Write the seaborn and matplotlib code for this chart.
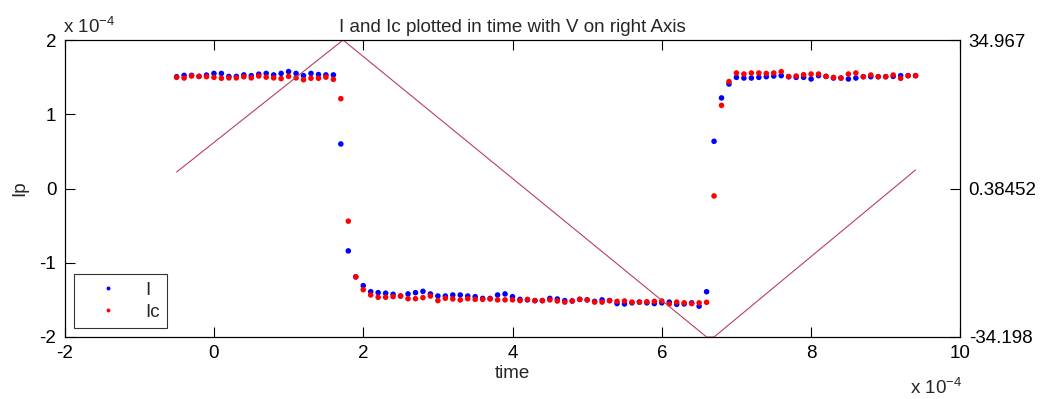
import numpy as np
import pandas as pd
import matplotlib
matplotlib.use("Agg")
import matplotlib.pyplot as plt
import seaborn as sns

# ---- data (time and currents in units of 1e-4) ----
time = [-0.5, -0.4, -0.3, -0.2, -0.1, 0.0, 0.1, 0.2, 0.3, 0.4,
        0.5, 0.6, 0.7, 0.8, 0.9, 1.0, 1.1, 1.2, 1.3, 1.4,
        1.5, 1.6, 1.7, 1.8, 1.9, 2.0, 2.1, 2.2, 2.3, 2.4,
        2.5, 2.6, 2.7, 2.8, 2.9, 3.0, 3.1, 3.2, 3.3, 3.4,
        3.5, 3.6, 3.7, 3.8, 3.9, 4.0, 4.1, 4.2, 4.3, 4.4,
        4.5, 4.6, 4.7, 4.8, 4.9, 5.0, 5.1, 5.2, 5.3, 5.4,
        5.5, 5.6, 5.7, 5.8, 5.9, 6.0, 6.1, 6.2, 6.3, 6.4,
        6.5, 6.6, 6.7, 6.8, 6.9, 7.0, 7.1, 7.2, 7.3, 7.4,
        7.5, 7.6, 7.7, 7.8, 7.9, 8.0, 8.1, 8.2, 8.3, 8.4,
        8.5, 8.6, 8.7, 8.8, 8.9, 9.0, 9.1, 9.2, 9.3, 9.4]

I_vals = [1.506, 1.524, 1.524, 1.51, 1.528, 1.55, 1.55, 1.51, 1.51, 1.53,
          1.52, 1.54, 1.55, 1.53, 1.55, 1.575, 1.55, 1.52, 1.55, 1.535,
          1.53, 1.53,
          0.60, -0.84, -1.19,
          -1.309, -1.39, -1.403, -1.41, -1.425, -1.448, -1.42, -1.403, -1.385, -1.42,
          -1.448, -1.448, -1.434, -1.434, -1.448, -1.457, -1.48, -1.48, -1.434, -1.42,
          -1.457, -1.493, -1.50,
          -1.51, -1.51, -1.48, -1.488, -1.51, -1.515, -1.493, -1.50, -1.52, -1.50,
          -1.51, -1.55, -1.555, -1.54, -1.53, -1.54, -1.55, -1.54, -1.53, -1.56,
          -1.555, -1.54, -1.585, -1.39,
          0.636, 1.22,
          1.407, 1.497, 1.488, 1.488, 1.497, 1.506, 1.515, 1.52, 1.506, 1.497,
          1.497, 1.475, 1.52, 1.51, 1.488, 1.488, 1.475, 1.488, 1.506, 1.506,
          1.506, 1.506, 1.51, 1.52, 1.52, 1.52]

Ic_vals = [1.497, 1.488, 1.515, 1.51, 1.506, 1.497, 1.485, 1.49, 1.49, 1.505,
           1.49, 1.515, 1.50, 1.49, 1.48, 1.51, 1.49, 1.465, 1.485, 1.485,
           1.50, 1.47,
           1.21, -0.44, -1.19,
           -1.363, -1.434, -1.465, -1.465, -1.456, -1.448, -1.484, -1.484, -1.47, -1.448,
           -1.51, -1.479, -1.488, -1.501, -1.484, -1.493, -1.493, -1.488, -1.50, -1.50,
           -1.50, -1.51, -1.493,
           -1.51, -1.51, -1.50, -1.515, -1.53, -1.515, -1.493, -1.50, -1.53, -1.53,
           -1.51, -1.52, -1.515, -1.53, -1.53, -1.525, -1.52, -1.515, -1.555, -1.53,
           -1.54, -1.55, -1.54, -1.533,
           -0.10, 1.12,
           1.44, 1.556, 1.542, 1.556, 1.556, 1.55, 1.556, 1.574, 1.506, 1.515,
           1.533, 1.542, 1.542, 1.51, 1.497, 1.488, 1.542, 1.556, 1.506, 1.529,
           1.506, 1.506, 1.529, 1.484, 1.52, 1.52]

# voltage (right axis), vertices of the triangle wave
v_time = [-0.5, 1.73, 6.6, 6.7, 9.4]
v_vals = [4.22, 34.967, -34.198, -34.198, 4.71]

right_ticks = [-34.198, 0.38452, 34.967]
right_labels = ["-34.198", "0.38452", "34.967"]
x_ticks = [-2, 0, 2, 4, 6, 8, 10]
y_ticks = [-2, -1, 0, 1, 2]

# ---- styling ----
sns.set_theme(style="white")
FONT = "Liberation Sans"
plt.rcParams["font.family"] = [FONT, "DejaVu Sans"]
plt.rcParams["mathtext.fontset"] = "custom"
plt.rcParams["mathtext.rm"] = FONT
plt.rcParams["mathtext.default"] = "regular"
plt.rcParams["axes.unicode_minus"] = False
FS = 13.5

df = pd.concat([
    pd.DataFrame({"time": time, "value": I_vals, "series": "I"}),
    pd.DataFrame({"time": time, "value": Ic_vals, "series": "Ic"}),
], ignore_index=True)

fig = plt.figure(figsize=(10.55, 3.99), dpi=100)
ax = fig.add_axes([0.0613, 0.1554, 0.849, 0.7443])

sns.scatterplot(data=df, x="time", y="value", hue="series",
                palette={"I": "#0000ff", "Ic": "#ff0000"},
                s=16, linewidth=0, marker="o", ax=ax, zorder=3)

ax.set_xlim(-2, 10)
ax.set_ylim(-2, 2)
ax.set_xticks(x_ticks)
ax.set_xticklabels([str(t) for t in x_ticks])
ax.set_yticks(y_ticks)
ax.set_yticklabels([str(t) for t in y_ticks])
ax.tick_params(direction="in", length=7, width=0.8, colors="black",
               labelsize=FS, top=True, right=True, bottom=True, left=True,
               pad=6)
for sp in ax.spines.values():
    sp.set_color("black")
    sp.set_linewidth(0.8)
ax.set_xlabel("time", fontsize=FS, labelpad=2)
ax.set_ylabel("Ip", fontsize=FS, labelpad=8)
ax.set_title("I and Ic plotted in time with V on right Axis", fontsize=FS, pad=6)

leg = ax.legend(loc="lower left", bbox_to_anchor=(0.0104, 0.030),
                borderaxespad=0, fontsize=FS, frameon=True, fancybox=False,
                edgecolor="black", handlelength=2.8, handletextpad=0.6,
                borderpad=0.4, labelspacing=0.25, markerscale=0.7)
leg.get_frame().set_linewidth(0.8)

ax2 = ax.twinx()
sns.lineplot(x=v_time, y=v_vals, ax=ax2, color="#b8405a", linewidth=0.8)
ax2.set_ylim(-34.198, 34.967)
ax2.set_yticks(right_ticks)
ax2.set_yticklabels(right_labels)
ax2.tick_params(direction="in", length=7, width=0.8, colors="black",
                labelsize=FS, right=True, left=False, pad=6)
for sp in ax2.spines.values():
    sp.set_color("black")
    sp.set_linewidth(0.8)
ax2.set_ylabel("")

# exponent labels (MATLAB style)
fig.text(63 / 1055, 1 - 33 / 399, r"x 10$^{-4}$", fontsize=FS, ha="left", va="baseline")
fig.text(910 / 1055, 1 - 394 / 399, r"x 10$^{-4}$", fontsize=FS, ha="left", va="baseline")

fig.savefig("out.png", dpi=100)
